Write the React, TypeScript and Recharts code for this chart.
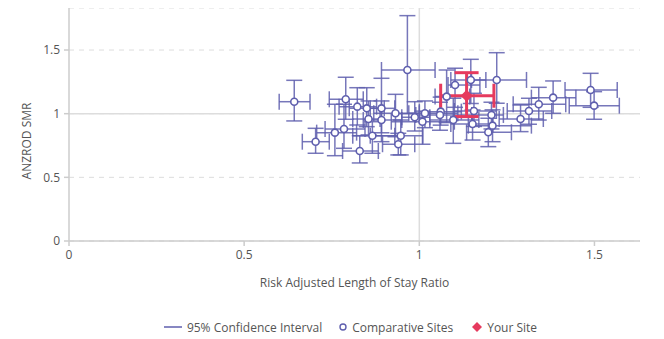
import React from 'react';
import { ScatterChart, Scatter, XAxis, YAxis, CartesianGrid, ReferenceLine, ErrorBar, Legend } from 'recharts';

const FONT = '"Open Sans", sans-serif';
const BLUE = '#5f5fae';
const RED = '#e63a5e';

// Comparative sites
const siteX = [0.643, 0.79, 0.823, 0.85, 0.855, 0.892, 0.892, 0.785, 0.759, 0.704, 0.83, 0.866, 0.966, 0.932, 0.987, 1.016, 1.009, 1.061, 1.059, 1.078, 1.102, 1.097, 1.147, 1.221, 1.156, 1.206, 1.152, 1.209, 1.197, 1.289, 1.313, 1.341, 1.382, 1.489, 1.499, 0.947, 0.94];
const siteXLow = [0.6, 0.743, 0.771, 0.8, 0.81, 0.86, 0.84, 0.731, 0.707, 0.666, 0.781, 0.81, 0.892, 0.87, 0.95, 0.97, 0.92, 1.0, 0.99, 1.045, 1.082, 1.03, 1.09, 1.149, 1.1, 1.15, 1.09, 1.14, 1.135, 1.228, 1.251, 1.268, 1.32, 1.416, 1.428, 0.86, 0.895];
const siteXHigh = [0.688, 0.84, 0.878, 0.9, 0.888, 0.93, 0.95, 0.845, 0.821, 0.743, 0.883, 0.93, 1.045, 1.0, 1.03, 1.11, 1.1, 1.12, 1.15, 1.144, 1.173, 1.17, 1.19, 1.306, 1.22, 1.24, 1.21, 1.32, 1.263, 1.354, 1.378, 1.418, 1.447, 1.565, 1.571, 1.01, 0.987];
const siteY = [1.094, 1.113, 1.055, 1.042, 0.958, 1.042, 0.95, 0.88, 0.851, 0.78, 0.707, 0.827, 1.343, 1.003, 0.972, 1.003, 0.937, 1.016, 0.99, 1.134, 1.225, 0.95, 1.265, 1.265, 1.021, 0.99, 0.919, 0.906, 0.854, 0.958, 1.021, 1.074, 1.126, 1.186, 1.063, 0.827, 0.76];
const siteYLow = [0.943, 0.956, 0.911, 0.898, 0.833, 0.85, 0.78, 0.728, 0.67, 0.689, 0.613, 0.689, 1.0, 0.819, 0.864, 0.89, 0.76, 0.91, 0.87, 0.93, 1.05, 0.767, 1.08, 1.082, 0.9, 0.88, 0.793, 0.78, 0.741, 0.859, 0.917, 0.95, 1.003, 1.05, 0.956, 0.676, 0.676];
const siteYHigh = [1.262, 1.286, 1.204, 1.204, 1.1, 1.278, 1.1, 1.074, 1.074, 0.885, 0.827, 0.937, 1.77, 1.152, 1.094, 1.1, 1.02, 1.13, 1.09, 1.343, 1.357, 1.121, 1.427, 1.479, 1.16, 1.09, 1.029, 1.03, 0.964, 1.068, 1.121, 1.207, 1.257, 1.317, 1.173, 0.95, 0.846];

// Your site
const yourX = [1.135];
const yourXLow = [1.061];
const yourXHigh = [1.213];
const yourY = [1.141];
const yourYLow = [0.977];
const yourYHigh = [1.322];

const xTicks = [0, 0.5, 1, 1.5];
const yTicks = [0, 0.5, 1, 1.5];

const build = (xs: number[], xl: number[], xh: number[], ys: number[], yl: number[], yh: number[]) =>
  xs.map((x, i) => ({
    x,
    y: ys[i],
    ex: [x - xl[i], xh[i] - x],
    ey: [ys[i] - yl[i], yh[i] - ys[i]],
  }));

const siteData = build(siteX, siteXLow, siteXHigh, siteY, siteYLow, siteYHigh);
const yourData = build(yourX, yourXLow, yourXHigh, yourY, yourYLow, yourYHigh);

const Circle = (props: any) => {
  const { cx, cy } = props;
  return <circle cx={cx} cy={cy} r={3.5} fill="#fff" stroke={BLUE} strokeWidth={1.6} />;
};

const Diamond = (props: any) => {
  const { cx, cy } = props;
  const r = 6;
  return <polygon points={`${cx},${cy - r} ${cx + r},${cy} ${cx},${cy + r} ${cx - r},${cy}`} fill={RED} />;
};

const renderLegend = () => (
  <div style={{ display: 'flex', justifyContent: 'center', alignItems: 'center', height: 24, fontFamily: FONT, fontSize: 12, color: '#555' }}>
    <span style={{ display: 'flex', alignItems: 'center', marginRight: 16 }}>
      <svg width={20} height={10}><line x1={1} y1={5} x2={19} y2={5} stroke={BLUE} strokeWidth={1.5} /></svg>
      <span style={{ marginLeft: 4 }}>95% Confidence Interval</span>
    </span>
    <span style={{ display: 'flex', alignItems: 'center', marginRight: 18 }}>
      <svg width={10} height={10}><circle cx={5} cy={5} r={3} fill="#fff" stroke={BLUE} strokeWidth={1.4} /></svg>
      <span style={{ marginLeft: 4 }}>Comparative Sites</span>
    </span>
    <span style={{ display: 'flex', alignItems: 'center' }}>
      <svg width={12} height={12}><polygon points="6,1 11,6 6,11 1,6" fill={RED} /></svg>
      <span style={{ marginLeft: 4 }}>Your Site</span>
    </span>
  </div>
);

const YLabel = () => (
  <text x={18} y={133} transform="rotate(-90, 18, 133)" textAnchor="middle" dominantBaseline="central" fontFamily={FONT} fontSize={12} fill="#555">
    ANZROD SMR
  </text>
);

export default function App() {
  return (
    <div style={{ fontFamily: FONT }}>
      <ScatterChart width={648} height={331} margin={{ top: 0, right: 16, left: 0, bottom: 26 }}>
        <CartesianGrid vertical={false} stroke="#ddd" strokeDasharray="5 5" />
        <ReferenceLine x={1} stroke="#ddd" strokeWidth={1.5} />
        <ReferenceLine y={1} stroke="#ddd" strokeWidth={1.5} />
        <XAxis
          type="number"
          dataKey="x"
          domain={[0, 1.63]}
          ticks={xTicks}
          stroke="#ccc"
          strokeWidth={1.5}
          tickSize={5}
          tickMargin={4}
          height={48}
          tick={{ fill: '#555', fontSize: 12, fontFamily: FONT }}
          label={{ value: 'Risk Adjusted Length of Stay Ratio', position: 'insideBottom', offset: 2, fill: '#555', fontSize: 12, fontFamily: FONT }}
        />
        <YAxis
          type="number"
          dataKey="y"
          domain={[0, 1.83]}
          ticks={yTicks}
          stroke="#ccc"
          strokeWidth={1.5}
          tickSize={5}
          tickMargin={4}
          width={61}
          tick={{ fill: '#555', fontSize: 12, fontFamily: FONT }}
          label={{ content: <YLabel /> }}
        />
        <Legend verticalAlign="bottom" content={renderLegend} wrapperStyle={{ bottom: 0, left: 26 }} />
        <Scatter name="Comparative Sites" data={siteData} shape={<Circle />} isAnimationActive={false}>
          <ErrorBar dataKey="ex" direction="x" stroke={BLUE} strokeWidth={1.5} width={8} strokeOpacity={0.85} isAnimationActive={false} />
          <ErrorBar dataKey="ey" direction="y" stroke={BLUE} strokeWidth={1.5} width={8} strokeOpacity={0.85} isAnimationActive={false} />
        </Scatter>
        <Scatter name="Your Site" data={yourData} shape={<Diamond />} isAnimationActive={false}>
          <ErrorBar dataKey="ex" direction="x" stroke={RED} strokeWidth={3} width={12} isAnimationActive={false} />
          <ErrorBar dataKey="ey" direction="y" stroke={RED} strokeWidth={3} width={12} isAnimationActive={false} />
        </Scatter>
      </ScatterChart>
    </div>
  );
}
